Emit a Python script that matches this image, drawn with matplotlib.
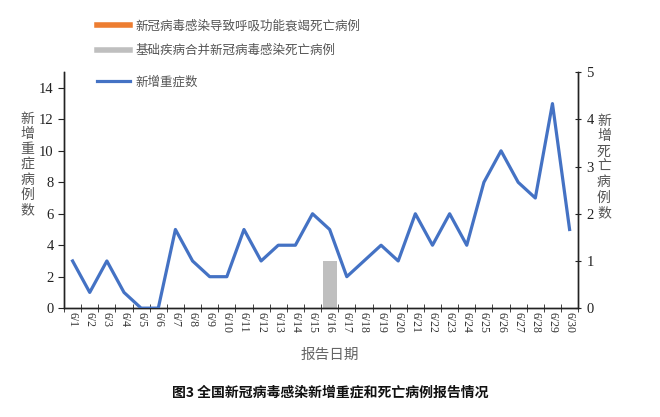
import matplotlib
matplotlib.use("Agg")
import matplotlib.pyplot as plt
from matplotlib.lines import Line2D
import numpy as np

dates = [f"6/{d}" for d in range(1, 31)]
severe = [3, 1, 3, 1, 0, 0, 5, 3, 2, 2, 5, 3, 4, 4, 6, 5, 2, 3, 4, 3, 6, 4, 6, 4, 8, 10, 8, 7, 13, 5]
death_resp = [0] * 30
death_basic = [0] * 15 + [1] + [0] * 14

series_names = ["新冠病毒感染导致呼吸功能衰竭死亡病例", "基础疾病合并新冠病毒感染死亡病例", "新增重症数"]
left_label = "新增重症病例数"
right_label = "新增死亡病例数"
xlabel = "报告日期"
caption = "图3 全国新冠病毒感染新增重症和死亡病例报告情况"

cjk = ["Noto Sans CJK SC", "DejaVu Sans"]
serif = ["Liberation Serif", "DejaVu Serif"]

fig = plt.figure(figsize=(6.6, 4.17), dpi=100)
ax = fig.add_axes([0.097, 0.261, 0.779, 0.566])
ax2 = ax.twinx()

x = np.arange(len(dates))
ax2.bar(x, death_resp, width=0.8, color="#ED7D31", zorder=1)
ax2.bar(x, death_basic, width=0.8, color="#BFBFBF", zorder=1)
ax.plot(x, severe, color="#4472C4", lw=2.3, zorder=3)
ax.set_zorder(ax2.get_zorder() + 1)
ax.patch.set_visible(False)

ax.set_xlim(-0.5, len(dates) - 0.5)
ax.set_ylim(0, 15)
ax2.set_ylim(0, 5)
ax.set_yticks(range(0, 15, 2))
ax2.set_yticks(range(0, 6))
ax.set_xticks(x)
ax.set_xticklabels(dates, rotation=-90, fontsize=8.5, family=serif, color="#333333")
ax.set_xticks(np.arange(-0.5, len(dates), 1), minor=True)
ax.tick_params(axis="x", which="major", length=0, pad=3)
ax.tick_params(axis="x", which="minor", length=6, direction="inout", color="#222222")
for lab in ax.get_yticklabels():
    lab.set_family(serif)
for lab in ax2.get_yticklabels():
    lab.set_family(serif)
ax.tick_params(axis="y", labelsize=10.5, length=4, direction="out", color="#222222", labelcolor="#222222")
ax2.tick_params(axis="y", labelsize=10.5, length=5, direction="inout", color="#222222", labelcolor="#222222")

for a in (ax, ax2):
    a.spines["top"].set_visible(False)
    for s in ("left", "right", "bottom"):
        a.spines[s].set_color("#222222")
        a.spines[s].set_linewidth(1.0)

fig.text(0.041, 0.605, "\n".join(left_label), family=cjk, fontsize=10, color="#555555",
         ha="center", va="center", linespacing=1.12)
fig.text(0.915, 0.6, "\n".join(right_label), family=cjk, fontsize=10, color="#555555",
         ha="center", va="center", linespacing=1.12)
fig.text(0.5, 0.148, xlabel, family=cjk, fontsize=10.5, color="#666666", ha="center", va="center")
fig.text(0.5, 0.058, caption, family=cjk, fontsize=10, color="#111111", ha="center", va="center",
         fontweight="bold")

h_bars = [Line2D([], [], color="#ED7D31", lw=4), Line2D([], [], color="#BFBFBF", lw=4)]
leg1 = fig.legend(h_bars, series_names[:2], loc="center left", bbox_to_anchor=(0.13, 0.908),
                  frameon=False, prop={"family": cjk, "size": 9}, handlelength=2.6,
                  labelspacing=0.95, handletextpad=0.5, labelcolor="#555555")
h_line = [Line2D([], [], color="#4472C4", lw=2.3)]
leg2 = fig.legend(h_line, series_names[2:], loc="center left", bbox_to_anchor=(0.13, 0.803),
                  frameon=False, prop={"family": cjk, "size": 9}, handlelength=2.6,
                  handletextpad=0.5, labelcolor="#555555")

fig.savefig("out.png", dpi=100)
